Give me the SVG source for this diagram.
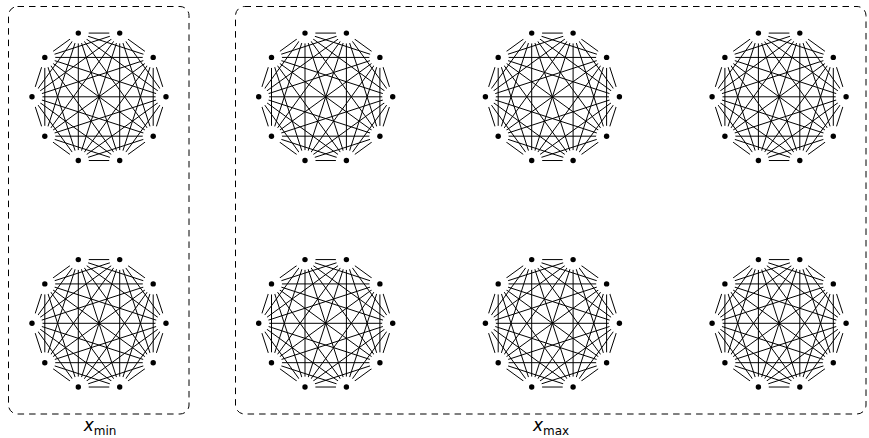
<svg xmlns="http://www.w3.org/2000/svg" xmlns:xlink="http://www.w3.org/1999/xlink" width="869" height="438" viewBox="0 0 869 438">
<style>
.edge{fill:none;stroke:#000;stroke-width:1}
.v{fill:#000}
.box{fill:none;stroke:#000;stroke-width:1;stroke-dasharray:6.5 5}
.lbl{font-family:"DejaVu Sans","Liberation Sans",sans-serif;fill:#000}
</style>
<defs>
<mask id="cut" maskUnits="userSpaceOnUse" x="-80" y="-80" width="160" height="160">
<rect x="-80" y="-80" width="160" height="160" fill="#fff"/>
<g fill="#000">
<circle cx="67" cy="0" r="10.5"/><circle cx="54.2" cy="-39.38" r="10.5"/><circle cx="20.7" cy="-63.72" r="10.5"/><circle cx="-20.7" cy="-63.72" r="10.5"/><circle cx="-54.2" cy="-39.38" r="10.5"/>
<circle cx="-67" cy="0" r="10.5"/><circle cx="-54.2" cy="39.38" r="10.5"/><circle cx="-20.7" cy="63.72" r="10.5"/><circle cx="20.7" cy="63.72" r="10.5"/><circle cx="54.2" cy="39.38" r="10.5"/>
</g>
</mask>
<g id="edges">
<path class="edge" mask="url(#cut)" d="M67,0L54.2,-39.38 M67,0L20.7,-63.72 M67,0L-20.7,-63.72 M67,0L-54.2,-39.38 M67,0L-67,0 M67,0L-54.2,39.38 M67,0L-20.7,63.72 M67,0L20.7,63.72 M67,0L54.2,39.38
M54.2,-39.38L20.7,-63.72 M54.2,-39.38L-20.7,-63.72 M54.2,-39.38L-54.2,-39.38 M54.2,-39.38L-67,0 M54.2,-39.38L-54.2,39.38 M54.2,-39.38L-20.7,63.72 M54.2,-39.38L20.7,63.72 M54.2,-39.38L54.2,39.38
M20.7,-63.72L-20.7,-63.72 M20.7,-63.72L-54.2,-39.38 M20.7,-63.72L-67,0 M20.7,-63.72L-54.2,39.38 M20.7,-63.72L-20.7,63.72 M20.7,-63.72L20.7,63.72 M20.7,-63.72L54.2,39.38
M-20.7,-63.72L-54.2,-39.38 M-20.7,-63.72L-67,0 M-20.7,-63.72L-54.2,39.38 M-20.7,-63.72L-20.7,63.72 M-20.7,-63.72L20.7,63.72 M-20.7,-63.72L54.2,39.38
M-54.2,-39.38L-67,0 M-54.2,-39.38L-54.2,39.38 M-54.2,-39.38L-20.7,63.72 M-54.2,-39.38L20.7,63.72 M-54.2,-39.38L54.2,39.38
M-67,0L-54.2,39.38 M-67,0L-20.7,63.72 M-67,0L20.7,63.72 M-67,0L54.2,39.38
M-54.2,39.38L-20.7,63.72 M-54.2,39.38L20.7,63.72 M-54.2,39.38L54.2,39.38
M-20.7,63.72L20.7,63.72 M-20.7,63.72L54.2,39.38
M20.7,63.72L54.2,39.38"/>
</g>
<g id="verts" class="v">
<circle cx="67" cy="0" r="2.7"/><circle cx="54.2" cy="-39.38" r="2.7"/><circle cx="20.7" cy="-63.72" r="2.7"/><circle cx="-20.7" cy="-63.72" r="2.7"/><circle cx="-54.2" cy="-39.38" r="2.7"/>
<circle cx="-67" cy="0" r="2.7"/><circle cx="-54.2" cy="39.38" r="2.7"/><circle cx="-20.7" cy="63.72" r="2.7"/><circle cx="20.7" cy="63.72" r="2.7"/><circle cx="54.2" cy="39.38" r="2.7"/>
</g>
</defs>

<g id="frames">
<rect id="box-min" class="box" x="8.5" y="6.5" width="180.5" height="407.5" rx="9"/>
<rect id="box-max" class="box" x="235.5" y="6.5" width="630.5" height="407.5" rx="9"/>
</g>

<g id="connectors">
<use xlink:href="#edges" href="#edges" transform="translate(99,96.8)"/>
<use xlink:href="#edges" href="#edges" transform="translate(99,323.3)"/>
<use xlink:href="#edges" href="#edges" transform="translate(325.7,96.8)"/>
<use xlink:href="#edges" href="#edges" transform="translate(552.4,96.8)"/>
<use xlink:href="#edges" href="#edges" transform="translate(779.1,96.8)"/>
<use xlink:href="#edges" href="#edges" transform="translate(325.7,323.3)"/>
<use xlink:href="#edges" href="#edges" transform="translate(552.4,323.3)"/>
<use xlink:href="#edges" href="#edges" transform="translate(779.1,323.3)"/>
</g>

<g id="graph-min-1"><use xlink:href="#verts" href="#verts" transform="translate(99,96.8)"/></g>
<g id="graph-min-2"><use xlink:href="#verts" href="#verts" transform="translate(99,323.3)"/></g>
<g id="graph-max-1"><use xlink:href="#verts" href="#verts" transform="translate(325.7,96.8)"/></g>
<g id="graph-max-2"><use xlink:href="#verts" href="#verts" transform="translate(552.4,96.8)"/></g>
<g id="graph-max-3"><use xlink:href="#verts" href="#verts" transform="translate(779.1,96.8)"/></g>
<g id="graph-max-4"><use xlink:href="#verts" href="#verts" transform="translate(325.7,323.3)"/></g>
<g id="graph-max-5"><use xlink:href="#verts" href="#verts" transform="translate(552.4,323.3)"/></g>
<g id="graph-max-6"><use xlink:href="#verts" href="#verts" transform="translate(779.1,323.3)"/></g>

<g id="labels" class="lbl">
<text x="100" y="431" text-anchor="middle"><tspan font-size="17" font-style="italic">x</tspan><tspan font-size="12" dy="4">min</tspan></text>
<text x="551" y="431" text-anchor="middle"><tspan font-size="17" font-style="italic">x</tspan><tspan font-size="12" dy="4">max</tspan></text>
</g>
</svg>
